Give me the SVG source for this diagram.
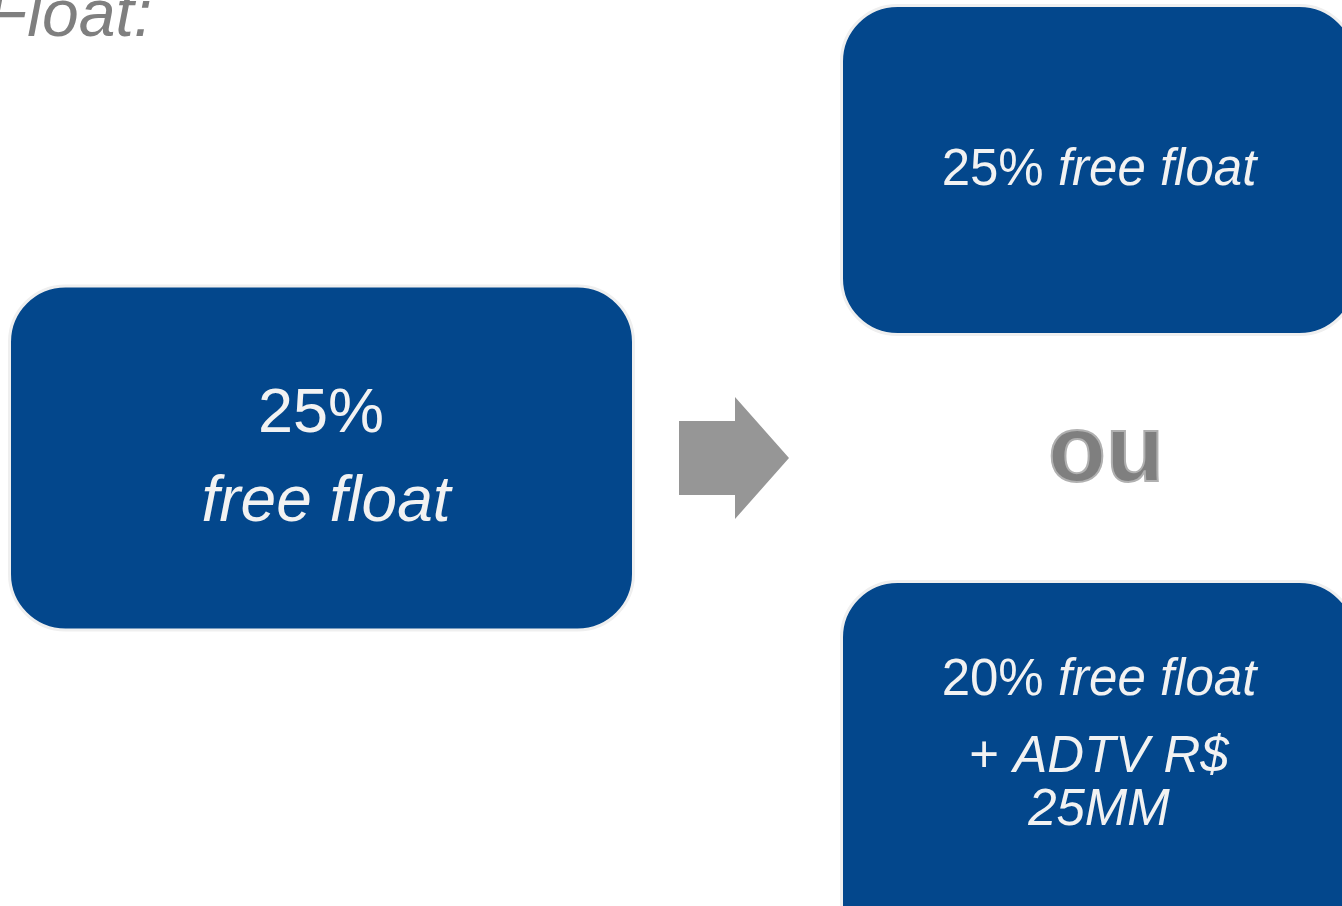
<svg xmlns="http://www.w3.org/2000/svg" width="1342" height="906" viewBox="0 0 1342 906">
<style>
.box{fill:#03478c;stroke:#efefef;stroke-width:3}
.t{font-family:"Liberation Sans",Arial,sans-serif;fill:#f2f2f2;text-anchor:middle}
.i{font-style:italic}
</style>
<rect width="1342" height="906" fill="#ffffff"/>
<text x="-13" y="36" font-family="Liberation Sans,Arial,sans-serif" font-style="italic" font-size="66" fill="#7f7f7f">Float:</text>
<g id="left">
<rect class="box" x="9.5" y="286" width="624" height="344" rx="56" ry="56"/>
<text class="t" x="321" y="432" font-size="63">25%</text>
<text class="t i" x="326" y="521" font-size="64">free float</text>
</g>
<g id="connectors">
<polygon points="679,421 735,421 735,397 789,458 735,519 735,495 679,495" fill="#969696"/>
</g>
<g id="top">
<rect class="box" x="841.5" y="5.5" width="514" height="329" rx="56" ry="56"/>
<text class="t" x="1099" y="185" font-size="51">25% <tspan class="i">free float</tspan></text>
</g>
<g id="ou">
<text x="1106" y="481" font-family="Liberation Sans,Arial,sans-serif" font-weight="bold" font-size="95" fill="#7f7f7f" stroke="#b0b0b0" stroke-width="2" text-anchor="middle">ou</text>
</g>
<g id="bottom">
<rect class="box" x="841.5" y="581.5" width="514" height="380" rx="56" ry="56"/>
<text class="t" x="1099" y="695" font-size="51">20% <tspan class="i">free float</tspan></text>
<text class="t" x="1099" y="772" font-size="51">+ <tspan class="i">ADTV R$</tspan></text>
<text class="t i" x="1099" y="825" font-size="51">25MM</text>
</g>
</svg>
